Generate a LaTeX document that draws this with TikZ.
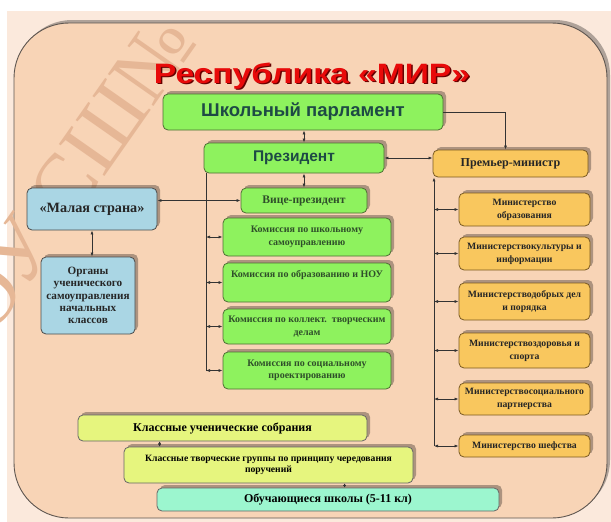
\documentclass[tikz,border=0pt]{standalone}
\usepackage{fontspec}
\setmainfont{Liberation Serif}
\newfontfamily\headfont{Liberation Sans}
\usetikzlibrary{arrows.meta,shadows}
\definecolor{bgout}{HTML}{FBE9DC}
\definecolor{bgin}{HTML}{F8D4B6}
\definecolor{frameline}{HTML}{5E5650}
\definecolor{grn}{HTML}{8EF25E}
\definecolor{grnline}{HTML}{4F6E35}
\definecolor{grntxt}{HTML}{1E4A45}
\definecolor{grnser}{HTML}{2F4F2A}
\definecolor{orng}{HTML}{F9C75E}
\definecolor{orngline}{HTML}{7A5A22}
\definecolor{blu}{HTML}{AAD6E4}
\definecolor{lim}{HTML}{E6F57E}
\definecolor{aqu}{HTML}{9CF6CF}
\definecolor{titlered}{HTML}{E80A0A}
\definecolor{wm}{HTML}{E6B796}
\tikzset{
	box/.style={draw, rounded corners=5pt, line width=.8pt, align=center, inner sep=2pt,
		drop shadow={shadow xshift=3pt, shadow yshift=3pt, fill=black, opacity=.3}},
	grnbox/.style={box, fill=grn, draw=grnline, text=grnser, font=\bfseries\fontsize{10}{12.5}\selectfont},
	minbox/.style={box, fill=orng, draw=orngline, text=black!85, font=\bfseries\fontsize{9.7}{13}\selectfont, minimum width=131pt},
	blubox/.style={box, fill=blu, draw=black!70, text=black!85, font=\bfseries\fontsize{11.2}{12.3}\selectfont},
	limbox/.style={box, fill=lim, draw=black!60, text=black, minimum width=289pt},
	link/.style={line width=.7pt, draw=black!80},
	>={Latex[length=4pt,width=3pt]}
}
\begin{document}
\begin{tikzpicture}[x=1pt,y=-1pt]
			\useasboundingbox (0,0) rectangle (611,522);
			\fill [white] (0,0) rectangle (611,522);
			\fill [bgout] (7,11) rectangle (611,522);
			\filldraw [fill=bgin, draw=frameline, line width=.9pt, rounded corners=55pt,
				drop shadow={shadow xshift=3pt, shadow yshift=3pt, fill=black, opacity=.3}] (14,23) rectangle (607,518);
			\node [font=\fontsize{85}{85}\selectfont, text=wm, rotate=55, anchor=base east] (wmark) at (201,39) {МОУ СШ№};

			\node [font=\headfont\bfseries\fontsize{28}{30}\selectfont, text=red!40!black, anchor=base] at (313.5,84.5) {\scalebox{1.2}[1]{Республика «МИР»}};
			\node [font=\headfont\bfseries\fontsize{28}{30}\selectfont, text=titlered, anchor=base] (title) at (312,83) {\scalebox{1.2}[1]{Республика «МИР»}};

			\node [grnbox, font=\headfont\bfseries\fontsize{18.5}{20}\selectfont, text=grntxt, minimum width=280pt, minimum height=36pt] (parl) at (303,112) {Школьный парламент};
			\node [grnbox, font=\headfont\bfseries\fontsize{15.5}{18}\selectfont, text=grntxt, minimum width=180pt, minimum height=30pt] (pres) at (294,158) {Президент};
			\node [minbox, font=\bfseries\fontsize{12.1}{14}\selectfont, minimum width=155pt, minimum height=27pt] (prem) at (510.5,163.5) {Премьер-министр};
			\node [grnbox, font=\bfseries\fontsize{11.6}{14}\selectfont, minimum width=126pt, minimum height=25pt] (vice) at (304,200.5) {Вице-президент};
			\node [blubox, font=\bfseries\fontsize{14.2}{16}\selectfont, minimum width=130pt, minimum height=42pt] (mal) at (92,209) {«Малая страна»};
			\node [blubox, minimum width=94pt, minimum height=77pt] (org) at (88,295.5) {Органы\\ученического\\самоуправления\\начальных\\классов};

			\foreach \n/\y/\h/\t in {1/237/38/{Комиссия по школьному\\самоуправлению},
					2/282.5/39/{Комиссия по образованию и НОУ\\\strut},
					3/326.5/35/{Комиссия по коллект.~~творческим\\делам},
					4/370.5/37/{Комиссия по социальному\\проектированию}} {
				\node [grnbox, minimum width=168pt, minimum height=\h pt] (com\n) at (307,\y) {\t};
			}
			\foreach \n/\y/\h/\t in {1/209.5/33/{Министерство\\образования},
					2/253.5/33/{Министерствокультуры и\\информации},
					3/301.5/37/{Министерстводобрых дел\\и порядка},
					4/350.5/35/{Министерствоздоровья и\\спорта},
					5/399/32/{Министерствосоциального\\партнерства},
					6/446/22/{Министерство шефства}} {
				\node [minbox, minimum height=\h pt] (min\n) at (524.5,\y) {\t};
			}

			\node [limbox, font=\bfseries\fontsize{12}{14}\selectfont, minimum height=26pt] (sob) at (222.5,428) {Классные ученические собрания};
			\node [limbox, font=\bfseries\fontsize{9.65}{11.5}\selectfont, minimum height=36pt] (grp) at (268.5,465) {Классные творческие группы по принципу чередования\\поручений};
			\node [box, fill=aqu, draw=black!60, font=\bfseries\fontsize{12}{15}\selectfont, minimum width=342pt, minimum height=23pt] (obu) at (328,499.5) {Обучающиеся школы (5-11 кл)};

			\draw [link, <->] (parl.south -| vice) -- (pres.north -| vice);
			\draw [link, <->] (pres.south -| vice) -- (vice.north);
			\draw [link, <->] (pres.east) -- (pres.east -| prem.west);
			\draw [link, ->] (parl.east) -| ([xshift=-5pt]prem.north);
			\draw [link, <->] (mal.east |- vice.west) -- (vice.west);
			\draw [link, <->] (mal.south) -- (mal.south |- org.north);

			\coordinate (cs) at (206,0);
			\draw [link] (pres.south -| cs) -- (com4.west -| cs);
			\foreach \n in {1,2,3,4} {
				\draw [link, <->] (com\n.west -| cs) -- (com\n.west);
			}
			\coordinate (ms) at (434,0);
			\draw [link, ->] (min6.west -| ms) -- (prem.south -| ms);
			\foreach \n in {1,...,6} {
				\draw [link, <->] (min\n.west -| ms) -- (min\n.west);
			}

			\draw [link, {Latex[length=2.5pt,width=3pt]}-{Latex[length=2.5pt,width=3pt]}] ([xshift=36pt]grp.north west) -- ([xshift=36pt]grp.north west |- sob.south);
			\draw [link, {Latex[length=2.5pt,width=3pt]}-{Latex[length=2.5pt,width=3pt]}] ([xshift=188pt]obu.north west) -- ([xshift=188pt]obu.north west |- grp.south);
\end{tikzpicture}
\end{document}
